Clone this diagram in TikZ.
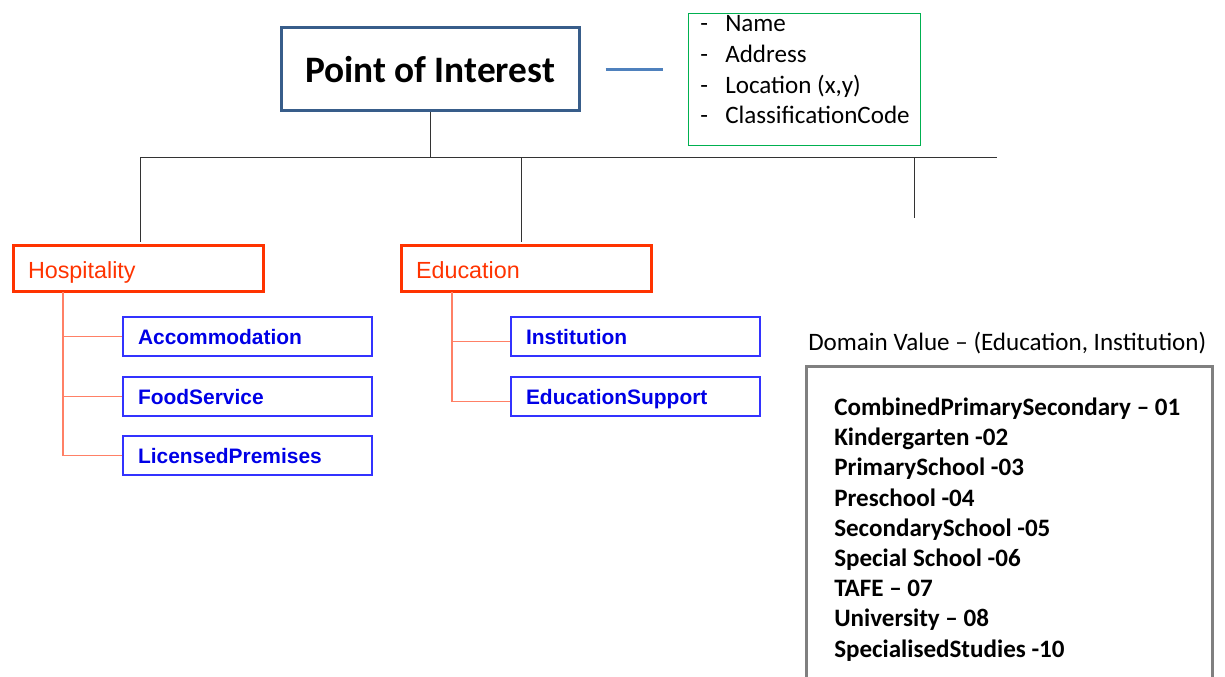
\documentclass[tikz,border=0pt]{standalone}
\usepackage{fontspec}
\setmainfont{Carlito}
\newfontfamily\arialfont{Liberation Sans}

\definecolor{poiblue}{HTML}{385D8A}
\definecolor{linkblue}{HTML}{4F81BD}
\definecolor{attrgreen}{HTML}{00B050}
\definecolor{catred}{HTML}{FF3300}
\definecolor{branchred}{HTML}{FF8066}
\definecolor{subblue}{HTML}{3333FF}
\definecolor{subtext}{HTML}{0000E6}
\definecolor{domgray}{HTML}{808080}

\tikzstyle{poibox}=[rectangle,draw=poiblue,line width=2.25pt,minimum width=223.5pt,minimum height=62.25pt,font=\bfseries\fontsize{28}{32}\selectfont]
\tikzstyle{attrbox}=[rectangle,draw=attrgreen,line width=0.75pt,minimum width=174pt,minimum height=99pt]
\tikzstyle{attrtext}=[anchor=base west,inner sep=0pt,align=left,font=\fontsize{18.8}{23}\selectfont]
\tikzstyle{catbox}=[rectangle,draw=catred,line width=2.25pt,text=catred,text width=165pt,text height=14pt,text depth=0pt,inner xsep=11.25pt,minimum height=34.5pt,align=left,font=\arialfont\fontsize{17.5}{20}\selectfont]
\tikzstyle{subbox}=[rectangle,draw=subblue,line width=0.9pt,text=subtext,text width=164.25pt,text height=14pt,text depth=1.5pt,inner xsep=11.25pt,minimum height=29.25pt,align=left,font=\arialfont\bfseries\fontsize{15.7}{18}\selectfont]
\tikzstyle{domainbox}=[rectangle,draw=domgray,line width=2.25pt,minimum width=304.5pt,minimum height=259.5pt]
\tikzstyle{trunk}=[draw,line width=0.75pt,black!80]
\tikzstyle{branch}=[draw,line width=1.1pt,branchred]

\begin{document}
\begin{tikzpicture}[x=0.75pt,y=-0.75pt]
	\useasboundingbox (0,0) rectangle (1225,677);

	\node [poibox]  (poi)      at (430,69.5) {Point of Interest};
	\node [attrbox] (attrs)    at (804,80) {};
	% base anchor sits on the last line
	\node [attrtext] (attrlist) at (700,124) {\makebox[18.75pt][l]{-}Name\\
		\makebox[18.75pt][l]{-}Address\\
		\makebox[18.75pt][l]{-}Location (x,y)\\
		\makebox[18.75pt][l]{-}ClassificationCode};

	\node [catbox] (hosp) at (138,269) {Hospitality};
	\node [catbox] (edu)  at (526,269) {Education};

	\node [subbox] (accom) at (247.5,336.5) {Accommodation};
	\node [subbox] (food)  at (247.5,396.5) {FoodService};
	\node [subbox] (lic)   at (247.5,455.5) {LicensedPremises};
	\node [subbox] (inst)  at (635.5,336.5) {Institution};
	\node [subbox] (esup)  at (635.5,396.5) {EducationSupport};

	\node [attrtext] (domtitle) at (808,350) {Domain Value – (Education, Institution)};
	\node [domainbox] (domain) at (1009,540) {};
	\node [attrtext,font=\bfseries\fontsize{18.8}{22.65}\selectfont] (domlist) at (834,657) {CombinedPrimarySecondary – 01\\
		Kindergarten -02\\
		PrimarySchool -03\\
		Preschool -04\\
		SecondarySchool -05\\
		Special School -06\\
		TAFE – 07\\
		University – 08\\
		SpecialisedStudies -10};

	% tree lines
	\coordinate (busL) at (140,158);
	\coordinate (busR) at (997,158);
	\coordinate (hospTop) at (140,242);
	\coordinate (eduTop) at (521,242);
	\coordinate (busE) at (521,158);
	\coordinate (busX) at (914,158);
	\coordinate (stub) at (914,218);
	\coordinate (hospStem) at (63,292);
	\coordinate (eduStem) at (452,292);

	\draw [draw=linkblue,line width=2.25pt] ([xshift=18.75pt]poi.east) -- ([xshift=-18.75pt]attrs.west |- poi.east);
	\draw [trunk] (poi.south) -- (poi.south |- busL);
	\draw [trunk] (busL) -- (busR);
	\draw [trunk] (busL) -- (hospTop);
	\draw [trunk] (busE) -- (eduTop);
	\draw [trunk] (busX) -- (stub);

	\draw [branch] (hospStem) |- (lic.west);
	\draw [branch] (hospStem |- accom.west) -- (accom.west);
	\draw [branch] (hospStem |- food.west) -- (food.west);
	\draw [branch] (eduStem) |- ([yshift=-3.75pt]esup.west);
	\draw [branch] ([yshift=-3.75pt]eduStem |- inst.west) -- ([yshift=-3.75pt]inst.west);
\end{tikzpicture}
\end{document}
